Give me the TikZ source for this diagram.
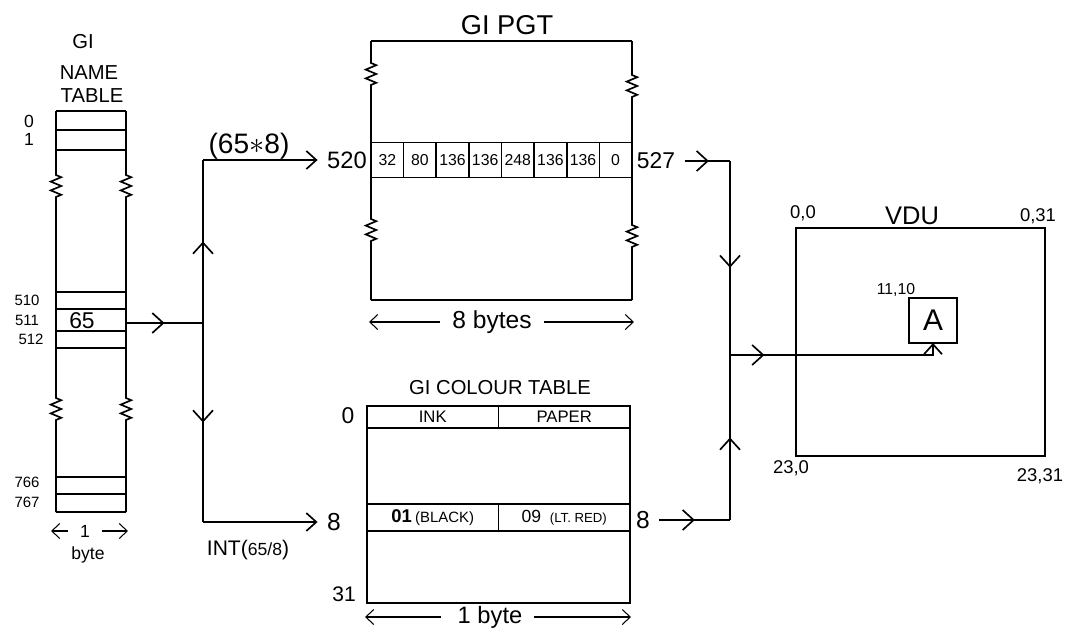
\documentclass[tikz,border=0pt]{standalone}
\usepackage{fontspec}
\setmainfont{Liberation Sans}
\usetikzlibrary{arrows.meta,positioning,decorations.pathmorphing,decorations.markings}

\newcommand{\fsz}[1]{\fontsize{#1}{#1}\selectfont}

\begin{document}
\begin{tikzpicture}[
  x=0.02cm, y=-0.02cm,
  wire/.style={line width=0.95pt},
  lbl/.style={inner sep=1pt},
  cell/.style={draw,line width=0.95pt,minimum width=0.6525cm,minimum height=0.7cm,inner sep=0pt,outer sep=0pt,font=\fsz{9}},
  ccell/.style={draw,line width=0.95pt,minimum width=2.63cm,inner sep=0pt,outer sep=0pt},
  brk/.style={decoration={zigzag,segment length=5pt,amplitude=3pt}},
  endtip/.style={-{Straight Barb[length=2mm,width=3.6mm]}},
  midtip/.style={postaction={decorate},decoration={markings,mark=at position #1 with {\arrow{Straight Barb[length=2.2mm,width=4mm]}}}},
  dimline/.style={line width=0.6pt,-{Straight Barb[length=1.6mm,width=3mm]},shorten <=2mm}
]
\useasboundingbox (0,0) rectangle (1065,630);

% GI name table
\node[lbl,font=\fsz{11.5}] (ntgi) at (83,42) {GI};
\node[lbl,font=\fsz{11.5}] (ntname) at (89,73) {NAME};
\node[lbl,font=\fsz{11.5}] (nttable) at (92,96) {TABLE};
\foreach \y in {111,130,150,292,309,331,348,477,494,512}
  \draw[wire] (56,\y) -- (126,\y);
\draw[wire,brk] (56,111) -- (56,175) decorate {-- (56,199)} -- (56,398) decorate {-- (56,422)} -- (56,512);
\draw[wire,brk] (126,111) -- (126,175) decorate {-- (126,199)} -- (126,398) decorate {-- (126,422)} -- (126,512);
\node[lbl,font=\fsz{10}] (nt0) at (29,121) {0};
\node[lbl,font=\fsz{10}] (nt1) at (29,139) {1};
\node[lbl,font=\fsz{8.5}] (nt510) at (27,300) {510};
\node[lbl,font=\fsz{8.5}] (nt511) at (27,320) {511};
\node[lbl,font=\fsz{8.5}] (nt512) at (31,339) {512};
\node[lbl,font=\fsz{8.5}] (nt766) at (27,482) {766};
\node[lbl,font=\fsz{8.5}] (nt767) at (27,502) {767};
\node[lbl,font=\fsz{13}] (n65) at (82,321) {65};
\coordinate (ntout) at (126,323);
\node[lbl,font=\fsz{10}] (ntone) at (85,531) {1};
\coordinate (ntL) at (51,531);
\coordinate (ntR) at (128,531);
\draw[dimline] (ntone) -- (ntL);
\draw[dimline] (ntone) -- (ntR);
\node[lbl,font=\fsz{10}] (ntbyte) at (88,555) {byte};

% split towards PGT and colour table
\coordinate (jl) at (203,323);
\coordinate (jlt) at (203,160);
\coordinate (jlb) at (203,522);
\node[lbl,font=\fsz{16}] (mul) at (249,146) {(65$\ast$8)};
\node[lbl,font=\fsz{12}] (int) at (248,550) {INT({\fsz{10}65/8})};
\draw[wire,midtip=0.5] (ntout) -- (jl);
\draw[wire,midtip=0.5] (jl) -- (jlt);
\draw[wire,midtip=0.5] (jl) -- (jlb);

% GI PGT
\node[lbl,font=\fsz{15.5}] (pgt) at (507,25) {GI PGT};
\draw[wire] (371,41) -- (632,41);
\draw[wire] (371,300) -- (632,300);
\draw[wire,brk] (371,41) -- (371,63) decorate {-- (371,87)} -- (371,219) decorate {-- (371,243)} -- (371,300);
\draw[wire,brk] (632,41) -- (632,75) decorate {-- (632,99)} -- (632,225) decorate {-- (632,249)} -- (632,300);
\node[cell,anchor=west] (c1) at (371,160) {32};
\node[cell,right=0pt of c1] (c2) {80};
\node[cell,right=0pt of c2] (c3) {136};
\node[cell,right=0pt of c3] (c4) {136};
\node[cell,right=0pt of c4] (c5) {248};
\node[cell,right=0pt of c5] (c6) {136};
\node[cell,right=0pt of c6] (c7) {136};
\node[cell,right=0pt of c7] (c8) {0};
\node[lbl,font=\fsz{13.5}] (l520) at (347,160) {520};
\node[lbl,font=\fsz{13}] (l527) at (656,161) {527};
\draw[wire,endtip,shorten >=1.5mm] (jlt) -- (l520);
\node[lbl,font=\fsz{14}] (pgw) at (492,322) {8 bytes};
\coordinate (pgL) at (369,322);
\coordinate (pgR) at (634,322);
\draw[dimline] (pgw) -- (pgL);
\draw[dimline] (pgw) -- (pgR);

% GI colour table
\node[lbl,font=\fsz{11.5}] (ctt) at (500,388) {GI COLOUR TABLE};
\node[draw,wire,minimum width=5.26cm,minimum height=3.94cm,inner sep=0pt,outer sep=0pt] (ctab) at (498.5,504.5) {};
\node[ccell,minimum height=0.44cm,anchor=north west,font=\fsz{9.5}] (ink) at (ctab.north west) {INK};
\node[ccell,minimum height=0.44cm,right=0pt of ink,font=\fsz{9.5}] (paper) {PAPER};
\node[ccell,minimum height=0.54cm,anchor=west,font=\fsz{10.5}] (ink8) at (367,517.5) {\textbf{01}\,{\fsz{8.5}(BLACK)}};
\node[ccell,minimum height=0.54cm,right=0pt of ink8,font=\fsz{10}] (paper8) {09\enspace{\fsz{7.5}(LT. RED)}};
\node[lbl,font=\fsz{13}] (ct0) at (348,416) {0};
\node[lbl,font=\fsz{14}] (ct8) at (334,522) {8};
\node[lbl,font=\fsz{12}] (ct31) at (344,594) {31};
\node[lbl,font=\fsz{14}] (ct8r) at (643,520) {8};
\draw[wire,endtip,shorten >=1.5mm] (jlb) -- (ct8);
\node[lbl,font=\fsz{13.5}] (ctw) at (490,617) {1 byte};
\coordinate (ctL) at (365,617);
\coordinate (ctR) at (631,617);
\draw[dimline,shorten <=3mm] (ctw) -- (ctL);
\draw[dimline] (ctw) -- (ctR);

% VDU
\node[lbl,font=\fsz{14.5}] (vdut) at (912,216) {VDU};
\node[draw,wire,minimum width=4.98cm,minimum height=4.56cm,inner sep=0pt,outer sep=0pt] (vdu) at (920.5,342) {};
\node[lbl,font=\fsz{10.5}] (v00) at (803,213) {0,0};
\node[lbl,font=\fsz{10.5}] (v031) at (1038,216) {0,31};
\node[lbl,font=\fsz{10.5}] (v230) at (791,468) {23,0};
\node[lbl,font=\fsz{10.5}] (v2331) at (1040,476) {23,31};
\node[draw,wire,minimum width=0.96cm,minimum height=0.9cm,inner sep=0pt,outer sep=0pt,font=\fsz{17}] (abox) at (933,320.5) {A};
\node[lbl,font=\fsz{9}] (v1110) at (896,290) {11,10};

% merge into the VDU
\coordinate (rtop) at (730,161);
\coordinate (rj) at (730,355);
\coordinate (rbot) at (730,520);
\draw[wire,midtip=0.6,shorten <=1.5mm] (l527) -- (rtop);
\draw[wire,midtip=0.55] (rtop) -- (rj);
\draw[wire,midtip=0.55,shorten <=1.5mm] (ct8r) -- (rbot);
\draw[wire,midtip=0.5] (rbot) -- (rj);
\draw[wire,endtip,midtip=0.16] (rj) -| (abox.south);
\end{tikzpicture}
\end{document}
